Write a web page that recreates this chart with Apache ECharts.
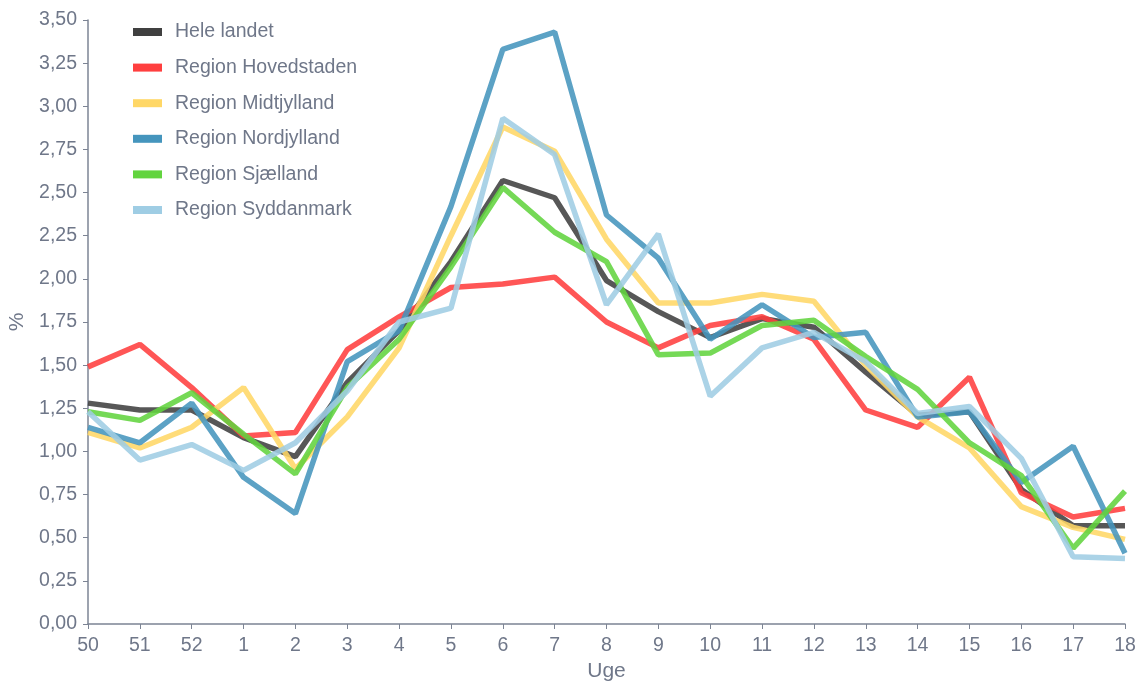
<!DOCTYPE html>
<html><head><meta charset="utf-8">
<script src="https://cdn.jsdelivr.net/npm/echarts@6/dist/echarts.min.js"></script>
<style>html,body{margin:0;padding:0;background:#fff}#c{width:1138px;height:681px}</style>
</head><body><div id="c"></div>
<script>
const weeks = ['50','51','52','1','2','3','4','5','6','7','8','9','10','11','12','13','14','15','16','17','18'];
const heleLandet   = [1.28,1.24,1.24,1.08,0.97,1.40,1.70,2.10,2.57,2.47,1.99,1.81,1.66,1.77,1.72,1.46,1.21,1.23,0.78,0.57,0.57];
const hovedstaden  = [1.49,1.62,1.37,1.09,1.11,1.59,1.78,1.95,1.97,2.01,1.75,1.60,1.73,1.78,1.65,1.24,1.14,1.43,0.76,0.62,0.67];
const midtjylland  = [1.11,1.02,1.14,1.37,0.90,1.20,1.60,2.25,2.88,2.74,2.23,1.86,1.86,1.91,1.87,1.50,1.20,1.02,0.68,0.56,0.49];
const nordjylland  = [1.14,1.05,1.28,0.85,0.64,1.52,1.70,2.42,3.33,3.43,2.37,2.12,1.65,1.85,1.66,1.69,1.20,1.23,0.82,1.03,0.41];
const sjaelland    = [1.23,1.18,1.34,1.10,0.87,1.37,1.65,2.07,2.53,2.27,2.10,1.56,1.57,1.73,1.76,1.55,1.36,1.05,0.86,0.44,0.77];
const syddanmark   = [1.23,0.95,1.04,0.89,1.05,1.35,1.75,1.83,2.93,2.72,1.85,2.26,1.32,1.60,1.69,1.52,1.22,1.26,0.96,0.39,0.38];

const names = ['Hele landet','Region Hovedstaden','Region Midtjylland','Region Nordjylland','Region Sjælland','Region Syddanmark'];
const datas = [heleLandet,hovedstaden,midtjylland,nordjylland,sjaelland,syddanmark];
const colors = ['#404040','#ff3f3f','#ffd766','#4595bd','#62d43f','#9fcde4'];
const txt = '#6f7789';
const axisCol = '#7c8494';

const chart = echarts.init(document.getElementById('c'));
chart.setOption({
  animation:false,
  color:colors,
  textStyle:{fontFamily:'Liberation Sans, Arial, sans-serif'},
  grid:{left:88,right:13,top:20,bottom:57,containLabel:false,outerBoundsMode:'none'},
  legend:{
    orient:'vertical', left:128, top:17,
    itemWidth:29, itemHeight:8, itemGap:15.6,
    icon:'rect',
    textStyle:{color:txt,fontSize:19.5,lineHeight:20,padding:[0,0,0,8]},
    data:names
  },
  xAxis:{
    type:'category', data:weeks, boundaryGap:false,
    name:'Uge', nameLocation:'middle', nameGap:37,
    nameTextStyle:{color:txt,fontSize:21},
    axisLine:{lineStyle:{color:axisCol,width:1.5}},
    axisTick:{show:true,length:5,lineStyle:{color:axisCol}},
    axisLabel:{color:txt,fontSize:19.5,margin:12},
    splitLine:{show:false}
  },
  yAxis:{
    type:'value', min:0, max:3.5, interval:0.25,
    name:'%', nameLocation:'middle', nameGap:59,
    nameTextStyle:{color:txt,fontSize:21},
    axisLine:{show:true,lineStyle:{color:axisCol,width:1.5}},
    axisTick:{show:true,length:5,lineStyle:{color:axisCol}},
    axisLabel:{color:txt,fontSize:19.5,margin:11,formatter:v=>v.toFixed(2).replace('.',',')},
    splitLine:{show:false}
  },
  series:names.map((n,i)=>({
    name:n, type:'line', data:datas[i], symbol:'none',
    lineStyle:{width:5.5,color:colors[i],opacity:0.88},
    itemStyle:{color:colors[i]},
    z:2+i
  }))
});
</script></body></html>
